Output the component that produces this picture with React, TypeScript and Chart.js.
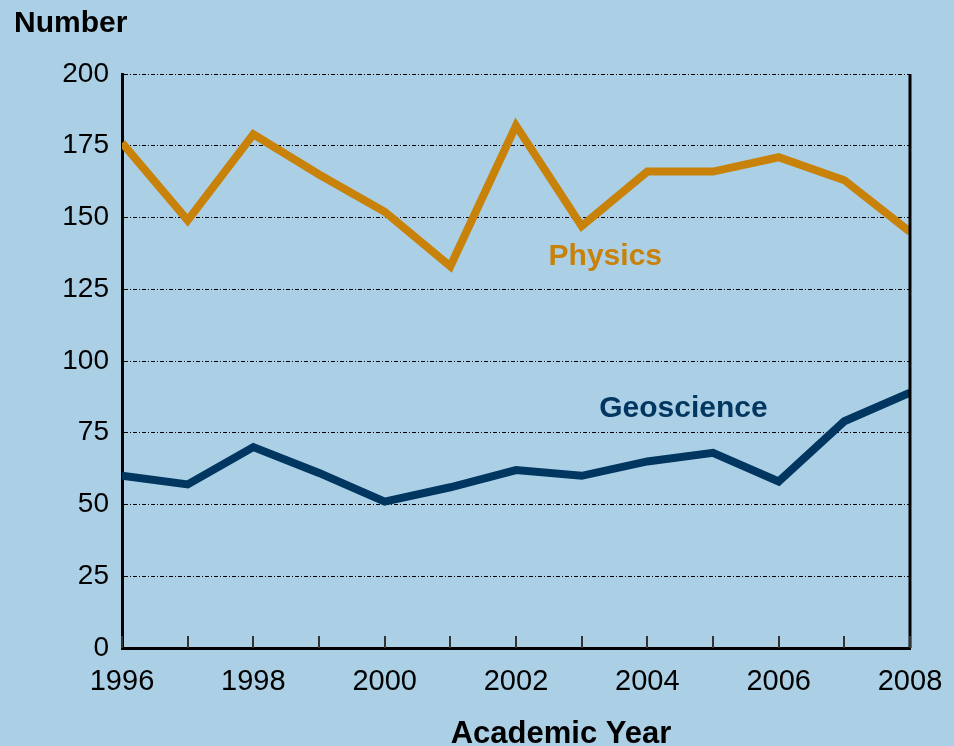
import React, { useEffect, useRef } from "react";
import { Chart, registerables } from "chart.js";

Chart.register(...registerables);

const years = [1996, 1997, 1998, 1999, 2000, 2001, 2002, 2003, 2004, 2005, 2006, 2007, 2008];
const physics = [176, 149, 179, 165, 152, 133, 182, 147, 166, 166, 171, 163, 145];
const geoscience = [60, 57, 70, 61, 51, 56, 62, 60, 65, 68, 58, 79, 89];
const yTicks = [0, 25, 50, 75, 100, 125, 150, 175, 200];
const xLabelYears = [1996, 1998, 2000, 2002, 2004, 2006, 2008];

const BG = "#ABD0E6";
const PHYS = "#C8820A";
const GEO = "#00365F";
const FONT = "'Liberation Sans', Arial, sans-serif";

const decorPlugin = {
  id: "decor",
  afterDraw(chart: any) {
    const { ctx, chartArea, scales } = chart;
    const xs = scales.x;
    const ys = scales.y;
    ctx.save();
    // right border
    ctx.strokeStyle = "#000";
    ctx.lineWidth = 3;
    ctx.beginPath();
    ctx.moveTo(chartArea.right, chartArea.top);
    ctx.lineTo(chartArea.right, chartArea.bottom);
    ctx.stroke();
    // inward ticks
    ctx.strokeStyle = "#333";
    ctx.lineWidth = 2;
    years.forEach((yr) => {
      const px = Math.round(xs.getPixelForValue(yr));
      ctx.beginPath();
      ctx.moveTo(px, chartArea.bottom);
      ctx.lineTo(px, chartArea.bottom - 12);
      ctx.stroke();
    });
    // series labels
    ctx.font = `bold 30px ${FONT}`;
    ctx.textAlign = "center";
    ctx.textBaseline = "middle";
    ctx.fillStyle = PHYS;
    ctx.fillText("Physics", xs.getPixelForValue(2003.36), ys.getPixelForValue(136.5));
    ctx.fillStyle = GEO;
    ctx.fillText("Geoscience", xs.getPixelForValue(2004.55), ys.getPixelForValue(83.3));
    // axis titles
    ctx.fillStyle = "#000";
    ctx.textAlign = "left";
    ctx.fillText("Number", 14, chartArea.top - 50);
    ctx.font = `bold 31px ${FONT}`;
    ctx.textAlign = "center";
    ctx.fillText("Academic Year", 561, chartArea.bottom + 86);
    ctx.restore();
  },
};

export default function App() {
  const ref = useRef<HTMLCanvasElement | null>(null);
  useEffect(() => {
    document.body.style.margin = "0";
    const chart = new Chart(ref.current as HTMLCanvasElement, {
      type: "line",
      data: {
        datasets: [
          {
            label: "Physics",
            data: years.map((y, i) => ({ x: y, y: physics[i] })),
            borderColor: PHYS,
            borderWidth: 8,
            pointRadius: 0,
            tension: 0,
            borderJoinStyle: "miter",
          },
          {
            label: "Geoscience",
            data: years.map((y, i) => ({ x: y, y: geoscience[i] })),
            borderColor: GEO,
            borderWidth: 8,
            pointRadius: 0,
            tension: 0,
            borderJoinStyle: "miter",
          },
        ],
      },
      options: {
        animation: false,
        responsive: false,
        layout: { padding: { top: 74, right: 44, left: 0, bottom: 0 } },
        plugins: { legend: { display: false }, tooltip: { enabled: false } },
        scales: {
          x: {
            type: "linear",
            min: 1996,
            max: 2008,
            afterBuildTicks: (s: any) => {
              s.ticks = xLabelYears.map((v) => ({ value: v }));
            },
            afterFit: (s: any) => {
              s.height = 98;
              s.paddingRight = 0;
              s.paddingLeft = 0;
            },
            ticks: {
              color: "#000",
              font: { family: FONT, size: 29 },
              padding: 17,
              maxRotation: 0,
              autoSkip: false,
              callback: (v: any) => String(v),
            },
            grid: { display: false, drawTicks: false },
            border: { display: true, color: "#000", width: 3 },
          },
          y: {
            min: 0,
            max: 200,
            afterBuildTicks: (s: any) => {
              s.ticks = yTicks.map((v) => ({ value: v }));
            },
            afterFit: (s: any) => {
              s.width = 122;
              s.paddingTop = 0;
              s.paddingBottom = 0;
            },
            ticks: {
              color: "#000",
              font: { family: FONT, size: 28 },
              padding: 13,
            },
            grid: {
              color: "#000",
              lineWidth: 1,
              drawTicks: false,
              tickLength: 0,
            },
            border: { display: true, color: "#000", width: 3, dash: [4, 2, 1, 2] },
          },
        },
      },
      plugins: [decorPlugin],
    } as any);
    return () => chart.destroy();
  }, []);
  return (
    <div style={{ width: 954, height: 746, background: BG }}>
      <canvas ref={ref} width={954} height={746} />
    </div>
  );
}
